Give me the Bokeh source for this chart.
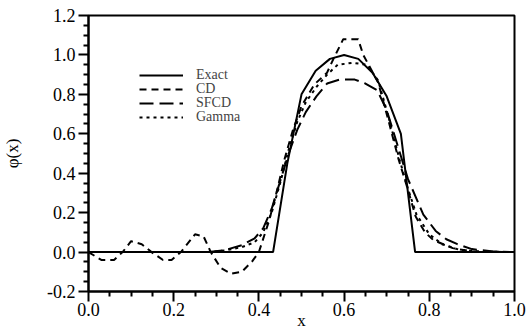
from bokeh.plotting import figure
from bokeh.models import Range1d, FixedTicker, NumeralTickFormatter, Legend, LegendItem
from bokeh.embed import file_html
from bokeh.resources import INLINE

# ---- data ----
exact_x = [0.0, 0.4333, 0.4667, 0.5, 0.5333, 0.5667, 0.6, 0.6333, 0.6667, 0.7, 0.7333, 0.7667, 1.0]
exact_y = [0.0, 0.0, 0.45, 0.80, 0.92, 0.98, 1.0, 0.98, 0.91, 0.79, 0.60, 0.0, 0.0]

cd_x = [0.0, 0.03, 0.06, 0.08, 0.10, 0.125, 0.148, 0.175, 0.195, 0.217, 0.25, 0.27, 0.287,
        0.31, 0.335, 0.36, 0.385, 0.40, 0.424, 0.44, 0.46, 0.48, 0.50, 0.53, 0.56, 0.575,
        0.598, 0.633, 0.645, 0.655, 0.68, 0.705, 0.728, 0.748, 0.768, 0.79, 0.81, 0.855, 0.9, 1.0]
cd_y = [0.0, -0.04, -0.04, 0.0, 0.055, 0.04, 0.0, -0.04, -0.04, 0.0, 0.09, 0.08, 0.0,
        -0.08, -0.11, -0.10, -0.045, 0.0, 0.16, 0.29, 0.47, 0.62, 0.74, 0.85, 0.91, 0.98,
        1.08, 1.08, 1.0, 0.96, 0.86, 0.66, 0.47, 0.33, 0.18, 0.10, 0.06, 0.02, 0.003, 0.0]

sfcd_x = [0.0, 0.28, 0.32, 0.36, 0.39, 0.41, 0.43, 0.45, 0.47, 0.49, 0.51, 0.535, 0.56, 0.59,
          0.625, 0.65, 0.678, 0.70, 0.72, 0.75, 0.786, 0.815, 0.84, 0.866, 0.9, 0.95, 1.0]
sfcd_y = [0.0, 0.0, 0.01, 0.035, 0.07, 0.12, 0.22, 0.36, 0.50, 0.62, 0.71, 0.79, 0.855, 0.875,
          0.875, 0.855, 0.82, 0.72, 0.58, 0.37, 0.19, 0.107, 0.065, 0.04, 0.015, 0.003, 0.0]

gamma_x = [0.0, 0.28, 0.32, 0.36, 0.39, 0.41, 0.43, 0.45, 0.47, 0.49, 0.51, 0.536, 0.56, 0.585,
           0.62, 0.654, 0.68, 0.705, 0.73, 0.75, 0.77, 0.80, 0.83, 0.87, 0.92, 1.0]
gamma_y = [0.0, 0.0, 0.008, 0.025, 0.05, 0.10, 0.20, 0.35, 0.52, 0.66, 0.76, 0.84, 0.90, 0.95,
           0.96, 0.95, 0.87, 0.68, 0.47, 0.32, 0.19, 0.09, 0.04, 0.012, 0.002, 0.0]

labels = ["Exact", "CD", "SFCD", "Gamma"]

x_ticks = [0.0, 0.2, 0.4, 0.6, 0.8, 1.0]
x_minor = [0.05, 0.1, 0.15, 0.25, 0.3, 0.35, 0.45, 0.5, 0.55, 0.65, 0.7, 0.75, 0.85, 0.9, 0.95]
y_ticks = [-0.2, 0.0, 0.2, 0.4, 0.6, 0.8, 1.0, 1.2]
y_minor = [-0.15, -0.1, -0.05, 0.05, 0.1, 0.15, 0.25, 0.3, 0.35, 0.45, 0.5, 0.55, 0.65, 0.7,
           0.75, 0.85, 0.9, 0.95, 1.05, 1.1, 1.15]

FONT = "Liberation Serif"

p = figure(width=526, height=332, output_backend="svg", toolbar_location=None,
           x_range=Range1d(0, 1), y_range=Range1d(-0.2, 1.2),
           min_border_left=87, min_border_right=12, min_border_top=15, min_border_bottom=40)

p.background_fill_color = "white"
p.border_fill_color = "white"
p.xgrid.visible = False
p.ygrid.visible = False
p.outline_line_color = "black"
p.outline_line_width = 2
p.outline_line_alpha = 1.0

r_exact = p.line(exact_x, exact_y, line_color="black", line_width=2)
r_cd = p.line(cd_x, cd_y, line_color="black", line_width=2, line_dash="7 5")
r_sfcd = p.line(sfcd_x, sfcd_y, line_color="black", line_width=2, line_dash="14 6")
r_gamma = p.line(gamma_x, gamma_y, line_color="black", line_width=2, line_dash="3 4")
renderers = [r_exact, r_cd, r_sfcd, r_gamma]

p.xaxis[0].ticker = FixedTicker(ticks=x_ticks, minor_ticks=x_minor)
p.yaxis[0].ticker = FixedTicker(ticks=y_ticks, minor_ticks=y_minor)

for ax in (p.xaxis[0], p.yaxis[0]):
    ax.formatter = NumeralTickFormatter(format="0.0")
    ax.axis_line_width = 2
    ax.major_tick_line_width = 2
    ax.minor_tick_line_width = 2
    ax.major_tick_out = 10
    ax.major_tick_in = 0
    ax.minor_tick_out = 5
    ax.minor_tick_in = 0
    ax.major_label_text_font = FONT
    ax.major_label_text_font_size = "18px"
    ax.major_label_text_color = "black"
    ax.axis_label_text_font = FONT
    ax.axis_label_text_font_style = "normal"
    ax.axis_label_text_font_size = "17px"
    ax.axis_label_text_color = "black"

p.xaxis[0].axis_label = "x"
p.xaxis[0].major_label_standoff = 1
p.xaxis[0].axis_label_standoff = -8
p.yaxis[0].axis_label = "φ(x)"
p.yaxis[0].major_label_standoff = 3
p.yaxis[0].axis_label_standoff = 22

# one legend per row so that the rows can sit at the reference spacing
row_offsets = [208, 194, 180, 166]
for lab, r, yoff in zip(labels, renderers, row_offsets):
    lg = Legend(items=[LegendItem(label=lab, renderers=[r])],
                location=(51, yoff), padding=0, margin=0, spacing=0,
                glyph_width=44, glyph_height=12, label_height=12, label_standoff=13,
                label_text_font=FONT, label_text_font_size="14px",
                border_line_color=None, background_fill_alpha=0)
    p.add_layout(lg, "center")

open("out.html", "w").write(file_html(p, INLINE))
